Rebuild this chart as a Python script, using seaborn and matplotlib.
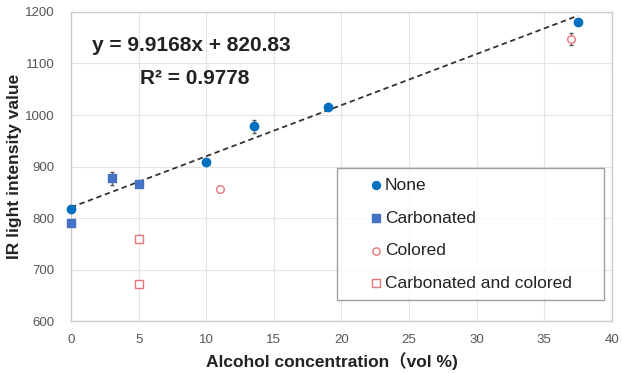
import pandas as pd
import seaborn as sns
import matplotlib.pyplot as plt
import numpy as np

# Data
none_x = [0, 10, 13.5, 19, 37.5]
none_y = [818, 908, 978, 1015, 1180]
none_err = [3, 4, 12, 4, 6]

carb_x = [0, 3, 5]
carb_y = [790, 877, 866]
carb_err = [3, 12, 5]

col_x = [11, 37]
col_y = [857, 1148]
col_err = [5, 12]

cc_x = [5, 5]
cc_y = [760, 672]
cc_err = [7, 6]

slope = 9.9168
intercept = 820.83

groups = ["None", "Carbonated", "Colored", "Carbonated and colored"]
df = pd.concat([
    pd.DataFrame({"x": none_x, "y": none_y, "err": none_err, "group": groups[0]}),
    pd.DataFrame({"x": carb_x, "y": carb_y, "err": carb_err, "group": groups[1]}),
    pd.DataFrame({"x": col_x, "y": col_y, "err": col_err, "group": groups[2]}),
    pd.DataFrame({"x": cc_x, "y": cc_y, "err": cc_err, "group": groups[3]}),
])

sns.set_style("white")
plt.rcParams['font.family'] = ['Liberation Sans', 'Noto Sans CJK JP', 'DejaVu Sans']

fig = plt.figure(figsize=(6.23, 3.73), dpi=100)
ax = fig.add_axes([0.114, 0.139, 0.868, 0.829])

styles = {
    "None": dict(marker="o", facecolor="#0070C0", edgecolor="#0070C0", s=36),
    "Carbonated": dict(marker="s", facecolor="#4472C4", edgecolor="#4472C4", s=36),
    "Colored": dict(marker="o", facecolor="white", edgecolor="#E8767A", s=30),
    "Carbonated and colored": dict(marker="s", facecolor="white", edgecolor="#E8767A", s=30),
}

for g in groups:
    sub = df[df["group"] == g]
    ax.errorbar(sub["x"], sub["y"], yerr=sub["err"], fmt="none",
                ecolor="#555555", elinewidth=0.8, capsize=1.5, zorder=2)
    st = styles[g]
    sns.scatterplot(data=sub, x="x", y="y", ax=ax, marker=st["marker"], s=st["s"],
                    color=st["facecolor"], edgecolor=st["edgecolor"], linewidth=1.0,
                    label=g, zorder=3, clip_on=False)

# trend line of "None" data
xs = np.array([0, 37.5])
ax.plot(xs, slope * xs + intercept, linestyle=(0, (3, 2)), color="#333333", lw=1.3, zorder=2)

ax.text(0.039, 0.893, "y = 9.9168x + 820.83", transform=ax.transAxes,
        fontsize=15, fontweight="bold", color="#222222", va="center")
ax.text(0.128, 0.786, "R² = 0.9778", transform=ax.transAxes,
        fontsize=15, fontweight="bold", color="#222222", va="center")

ax.set_xlim(0, 40)
ax.set_ylim(600, 1200)
ax.set_xticks(range(0, 41, 5))
ax.set_yticks(range(600, 1201, 100))
ax.grid(True, color="#E4E4E4", linewidth=0.8)
ax.set_axisbelow(True)
for sp in ax.spines.values():
    sp.set_color("#CCCCCC")
    sp.set_linewidth(1.0)
ax.tick_params(axis="both", labelsize=9.5, colors="#555555", length=0)
ax.tick_params(axis="y", pad=12)
ax.tick_params(axis="x", pad=9)

ax.set_xlabel("Alcohol concentration（vol %)", fontsize=12.5, fontweight="bold", color="#222222")
ax.set_ylabel("IR light intensity value", fontsize=12.5, fontweight="bold", color="#222222")
ax.yaxis.set_label_coords(-0.09, 0.5)
ax.xaxis.set_label_coords(0.482, -0.1)

leg = ax.legend(loc="lower left", bbox_to_anchor=(0.492, 0.068, 0.494, 0.43), mode="expand",
                frameon=True, fancybox=False, edgecolor="#888888", fontsize=12.5,
                labelspacing=1.0, handletextpad=-1.2, handlelength=3.4, borderpad=0.55,
                markerscale=0.95, borderaxespad=0)
leg.get_frame().set_linewidth(1.0)
for t in leg.get_texts():
    t.set_color("#222222")

plt.savefig("out.png", dpi=100)
plt.close()
